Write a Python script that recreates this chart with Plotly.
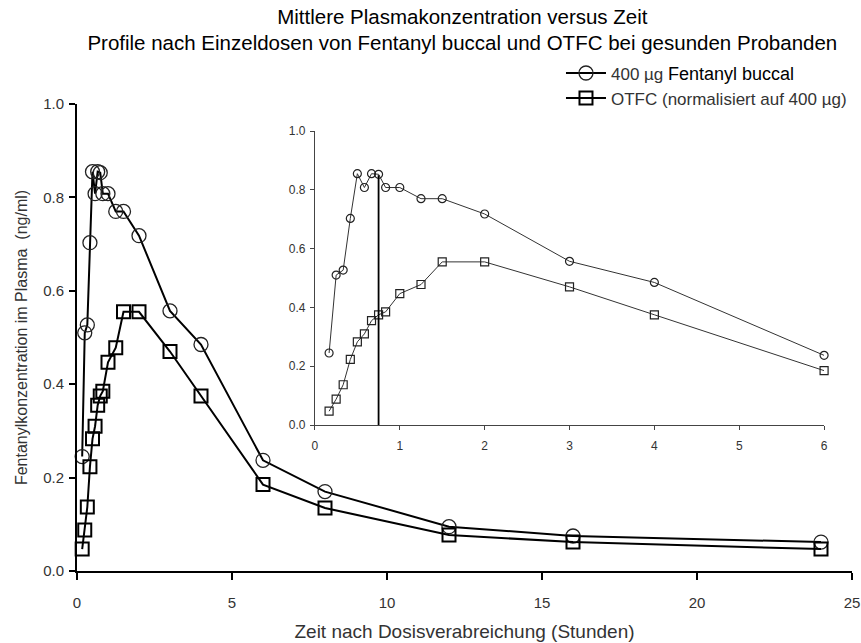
import plotly.graph_objects as go

# ---- data ----
time_h = [0.167, 0.25, 0.333, 0.417, 0.5, 0.583, 0.667, 0.75, 0.833, 1.0, 1.25, 1.5,
          2.0, 3.0, 4.0, 6.0, 8.0, 12.0, 16.0, 24.0]
buccal = [0.245, 0.510, 0.527, 0.703, 0.855, 0.808, 0.855, 0.853, 0.808, 0.808, 0.770, 0.770,
          0.718, 0.557, 0.485, 0.237, 0.170, 0.095, 0.075, 0.062]
otfc = [0.047, 0.088, 0.137, 0.223, 0.283, 0.310, 0.355, 0.375, 0.385, 0.447, 0.478, 0.555,
        0.555, 0.470, 0.375, 0.185, 0.135, 0.077, 0.062, 0.047]
inset_max_time = 6.0
tmax_x = [0.75, 0.75]
tmax_y = [0.0, 0.85]

main_xticks = [0, 5, 10, 15, 20, 25]
inset_xticks = [0, 1, 2, 3, 4, 5, 6]
yticks = [0, 0.2, 0.4, 0.6, 0.8, 1.0]

name_buccal = "400 µg <span style='font-size:18px;color:#000'>Fentanyl buccal</span>"
name_otfc = "OTFC (normalisiert auf 400 µg)"

title_text = ("Mittlere Plasmakonzentration versus Zeit<br>"
              "Profile nach Einzeldosen von Fentanyl buccal und OTFC bei gesunden Probanden")
x_title = "Zeit nach Dosisverabreichung (Stunden)"
y_title = "Fentanylkonzentration im Plasma  (ng/ml)"

FONT = "Liberation Sans, Arial, sans-serif"

inset_t = [t for t in time_h if t <= inset_max_time]
inset_b = buccal[:len(inset_t)]
inset_o = otfc[:len(inset_t)]

fig = go.Figure()

# main traces
fig.add_trace(go.Scatter(
    x=time_h, y=buccal, mode="lines+markers", name=name_buccal,
    line=dict(color="#000", width=2),
    marker=dict(symbol="circle-open", size=14, color="#222", line=dict(width=1.3)),
    cliponaxis=False))
fig.add_trace(go.Scatter(
    x=time_h, y=otfc, mode="lines+markers", name=name_otfc,
    line=dict(color="#000", width=2),
    marker=dict(symbol="square-open", size=13, color="#000", line=dict(width=2)),
    cliponaxis=False))

# inset traces
fig.add_trace(go.Scatter(
    x=inset_t, y=inset_b, mode="lines+markers", showlegend=False,
    xaxis="x2", yaxis="y2",
    line=dict(color="#333", width=1),
    marker=dict(symbol="circle-open", size=8, color="#222", line=dict(width=1.2)),
    cliponaxis=False))
fig.add_trace(go.Scatter(
    x=inset_t, y=inset_o, mode="lines+markers", showlegend=False,
    xaxis="x2", yaxis="y2",
    line=dict(color="#333", width=1),
    marker=dict(symbol="square-open", size=8, color="#222", line=dict(width=1.2)),
    cliponaxis=False))
fig.add_trace(go.Scatter(
    x=tmax_x, y=tmax_y, mode="lines", showlegend=False,
    xaxis="x2", yaxis="y2", line=dict(color="#000", width=1.8)))

fig.update_layout(
    width=861, height=643,
    margin=dict(l=77, r=9, t=104, b=72, autoexpand=False),
    paper_bgcolor="white", plot_bgcolor="white",
    font=dict(family=FONT, color="#333", size=15),
    title=dict(text=title_text, x=0.537, xanchor="center", xref="container",
               y=0.963, yanchor="middle", yref="container",
               font=dict(family=FONT, size=20.5, color="#000")),
    showlegend=True,
    legend=dict(x=0.6245, xanchor="left", y=1.104, yanchor="top",
                bgcolor="rgba(0,0,0,0)", font=dict(size=17, color="#333"),
                tracegroupgap=0, itemwidth=40),
    xaxis=dict(range=[0, 25], domain=[0, 1], showgrid=False, zeroline=False,
               automargin=False,
               showline=True, linecolor="#000", linewidth=2,
               ticks="outside", ticklen=7, tickwidth=2, tickcolor="#000",
               tickvals=main_xticks, ticklabelstandoff=10,
               tickfont=dict(size=15, color="#333"),
               title=dict(text=x_title, font=dict(size=19, color="#333"), standoff=15)),
    yaxis=dict(range=[0, 1], domain=[0, 1], showgrid=False, zeroline=False,
               automargin=False,
               showline=True, linecolor="#000", linewidth=2,
               ticks="outside", ticklen=6, tickwidth=2, tickcolor="#000",
               tickvals=yticks, tickformat=".1f",
               ticklabelstandoff=2,
               tickfont=dict(size=15, color="#333"),
               title=dict(text=y_title, font=dict(size=16, color="#333"), standoff=12)),
    xaxis2=dict(range=[0, 6], domain=[0.307, 0.964], anchor="y2",
                showgrid=False, zeroline=False, automargin=False,
                showline=True, linecolor="#444", linewidth=1,
                ticks="outside", ticklen=4, tickwidth=1, tickcolor="#444",
                tickvals=inset_xticks, ticklabelstandoff=6,
                tickfont=dict(size=12, color="#333")),
    yaxis2=dict(range=[0, 1], domain=[0.3126, 0.942], anchor="x2",
                showgrid=False, zeroline=False, automargin=False,
                showline=True, linecolor="#444", linewidth=1,
                ticks="outside", ticklen=4, tickwidth=1, tickcolor="#444",
                tickvals=yticks, tickformat=".1f",
                ticklabelstandoff=2,
                tickfont=dict(size=12, color="#333")),
)

fig.write_html("out.html", config={"displayModeBar": False},
               post_script="document.body.style.margin='0';document.body.style.overflow='hidden';")
